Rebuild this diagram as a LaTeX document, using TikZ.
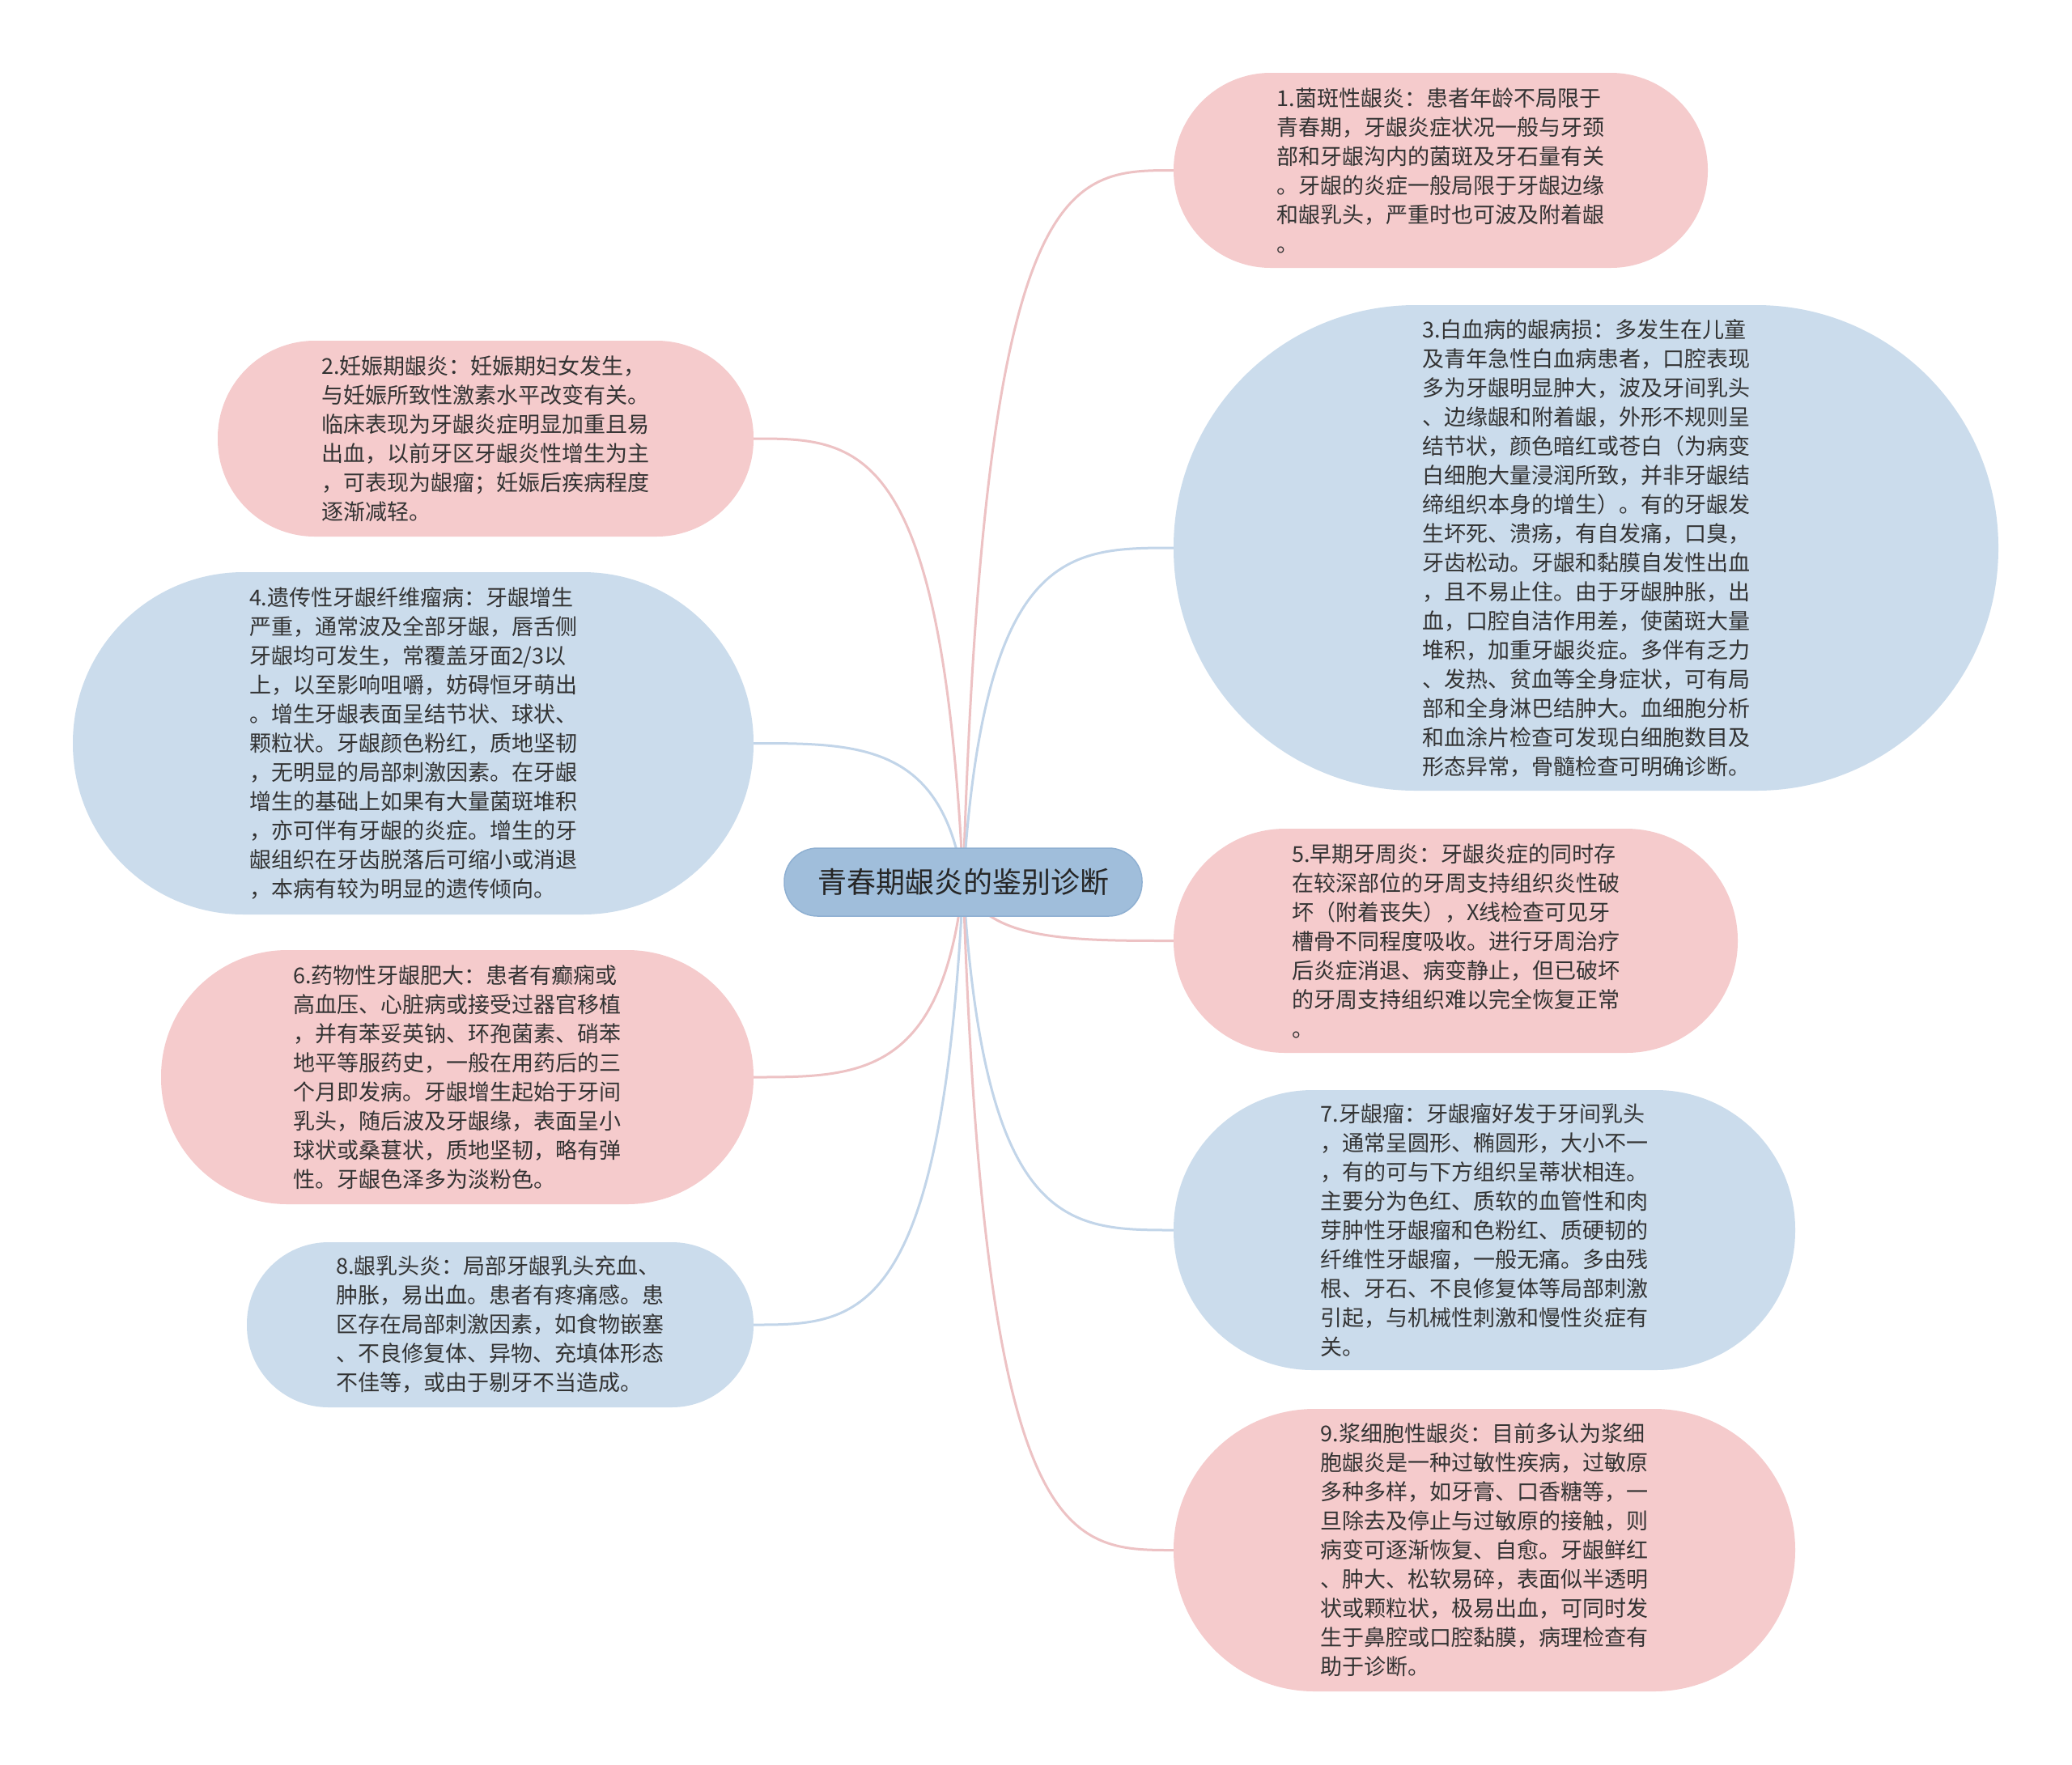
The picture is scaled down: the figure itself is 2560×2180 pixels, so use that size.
\documentclass[tikz,border=0pt]{standalone}
\usepackage{fontspec}
\setmainfont{Noto Sans CJK SC}
\usetikzlibrary{calc,backgrounds}
\definecolor{pinkfill}{HTML}{F5CBCC}
\definecolor{bluefill}{HTML}{CBDCEC}
\definecolor{rootfill}{HTML}{A0BEDB}
\definecolor{rootdraw}{HTML}{8FB0D2}
\definecolor{pinkline}{HTML}{EDC2C4}
\definecolor{blueline}{HTML}{C2D5E9}
\definecolor{txt}{HTML}{333333}
\definecolor{roottxt}{HTML}{262626}
\newcommand\linkto[2]{\draw[#1] (root.center) let \p1=(root.center), \p2=(#2) in .. controls ({0.9*\x1+0.1*\x2},\y2) and ({0.5*\x1+0.5*\x2},\y2) .. (\p2);}
\begin{document}
\begin{tikzpicture}[x=1pt,y=1pt,
  every node/.style={text=txt, inner sep=0pt},
  leaf/.style={align=left, font=\fontsize{27}{36}\selectfont},
  pinkbox/.style={leaf, fill=pinkfill},
  bluebox/.style={leaf, fill=bluefill},
  pk/.style={draw=pinkline, line width=3pt},
  bl/.style={draw=blueline, line width=3pt}]
\useasboundingbox (0,0) rectangle (2560,-2180);

\node[fill=rootfill, draw=rootdraw, line width=1.5pt, minimum width=442pt, minimum height=84pt, rounded corners=41pt, font=\fontsize{36}{44}\selectfont, text=roottxt] (root) at (1190,-1090) {青春期龈炎的鉴别诊断};

\node[pinkbox, minimum width=660pt, minimum height=241pt, rounded corners=120pt] (n1) at (1780,-210.5) {1.菌斑性龈炎：患者年龄不局限于\\青春期，牙龈炎症状况一般与牙颈\\部和牙龈沟内的菌斑及牙石量有关\\。牙龈的炎症一般局限于牙龈边缘\\和龈乳头，严重时也可波及附着龈\\。};

\node[bluebox, minimum width=1019pt, minimum height=600pt, rounded corners=299pt] (n3) at (1959.5,-677) {3.白血病的龈病损：多发生在儿童\\及青年急性白血病患者，口腔表现\\多为牙龈明显肿大，波及牙间乳头\\、边缘龈和附着龈，外形不规则呈\\结节状，颜色暗红或苍白（为病变\\白细胞大量浸润所致，并非牙龈结\\缔组织本身的增生）。有的牙龈发\\生坏死、溃疡，有自发痛，口臭，\\牙齿松动。牙龈和黏膜自发性出血\\，且不易止住。由于牙龈肿胀，出\\血，口腔自洁作用差，使菌斑大量\\堆积，加重牙龈炎症。多伴有乏力\\、发热、贫血等全身症状，可有局\\部和全身淋巴结肿大。血细胞分析\\和血涂片检查可发现白细胞数目及\\形态异常，骨髓检查可明确诊断。};

\node[pinkbox, minimum width=662pt, minimum height=242pt, rounded corners=120pt] (n2) at (600,-542) {2.妊娠期龈炎：妊娠期妇女发生，\\与妊娠所致性激素水平改变有关。\\临床表现为牙龈炎症明显加重且易\\出血，以前牙区牙龈炎性增生为主\\，可表现为龈瘤；妊娠后疾病程度\\逐渐减轻。};

\node[bluebox, minimum width=841pt, minimum height=423pt, rounded corners=211pt] (n4) at (510.5,-918.5) {4.遗传性牙龈纤维瘤病：牙龈增生\\严重，通常波及全部牙龈，唇舌侧\\牙龈均可发生，常覆盖牙面2/3以\\上，以至影响咀嚼，妨碍恒牙萌出\\。增生牙龈表面呈结节状、球状、\\颗粒状。牙龈颜色粉红，质地坚韧\\，无明显的局部刺激因素。在牙龈\\增生的基础上如果有大量菌斑堆积\\，亦可伴有牙龈的炎症。增生的牙\\龈组织在牙齿脱落后可缩小或消退\\，本病有较为明显的遗传倾向。};

\node[pinkbox, minimum width=697pt, minimum height=277pt, rounded corners=138pt] (n5) at (1798.5,-1162.5) {5.早期牙周炎：牙龈炎症的同时存\\在较深部位的牙周支持组织炎性破\\坏（附着丧失），X线检查可见牙\\槽骨不同程度吸收。进行牙周治疗\\后炎症消退、病变静止，但已破坏\\的牙周支持组织难以完全恢复正常\\。};

\node[pinkbox, minimum width=732pt, minimum height=314pt, rounded corners=156pt] (n6) at (565,-1331) {6.药物性牙龈肥大：患者有癫痫或\\高血压、心脏病或接受过器官移植\\，并有苯妥英钠、环孢菌素、硝苯\\地平等服药史，一般在用药后的三\\个月即发病。牙龈增生起始于牙间\\乳头，随后波及牙龈缘，表面呈小\\球状或桑葚状，质地坚韧，略有弹\\性。牙龈色泽多为淡粉色。};

\node[bluebox, minimum width=768pt, minimum height=346pt, rounded corners=172pt] (n7) at (1834,-1520) {7.牙龈瘤：牙龈瘤好发于牙间乳头\\，通常呈圆形、椭圆形，大小不一\\，有的可与下方组织呈蒂状相连。\\主要分为色红、质软的血管性和肉\\芽肿性牙龈瘤和色粉红、质硬韧的\\纤维性牙龈瘤，一般无痛。多由残\\根、牙石、不良修复体等局部刺激\\引起，与机械性刺激和慢性炎症有\\关。};

\node[bluebox, minimum width=626pt, minimum height=204pt, rounded corners=101pt] (n8) at (618,-1637) {8.龈乳头炎：局部牙龈乳头充血、\\肿胀，易出血。患者有疼痛感。患\\区存在局部刺激因素，如食物嵌塞\\、不良修复体、异物、充填体形态\\不佳等，或由于剔牙不当造成。};

\node[pinkbox, minimum width=768pt, minimum height=349pt, rounded corners=174pt] (n9) at (1834,-1915.5) {9.浆细胞性龈炎：目前多认为浆细\\胞龈炎是一种过敏性疾病，过敏原\\多种多样，如牙膏、口香糖等，一\\旦除去及停止与过敏原的接触，则\\病变可逐渐恢复、自愈。牙龈鲜红\\、肿大、松软易碎，表面似半透明\\状或颗粒状，极易出血，可同时发\\生于鼻腔或口腔黏膜，病理检查有\\助于诊断。};

\begin{pgfonlayer}{background}
\fill[white] (0,0) rectangle (2560,-2180);
\linkto{pk}{n1.west}
\linkto{bl}{n3.west}
\linkto{pk}{n5.west}
\linkto{bl}{n7.west}
\linkto{pk}{n9.west}
\linkto{pk}{n2.east}
\linkto{bl}{n4.east}
\linkto{pk}{n6.east}
\linkto{bl}{n8.east}
\end{pgfonlayer}
\end{tikzpicture}
\end{document}
